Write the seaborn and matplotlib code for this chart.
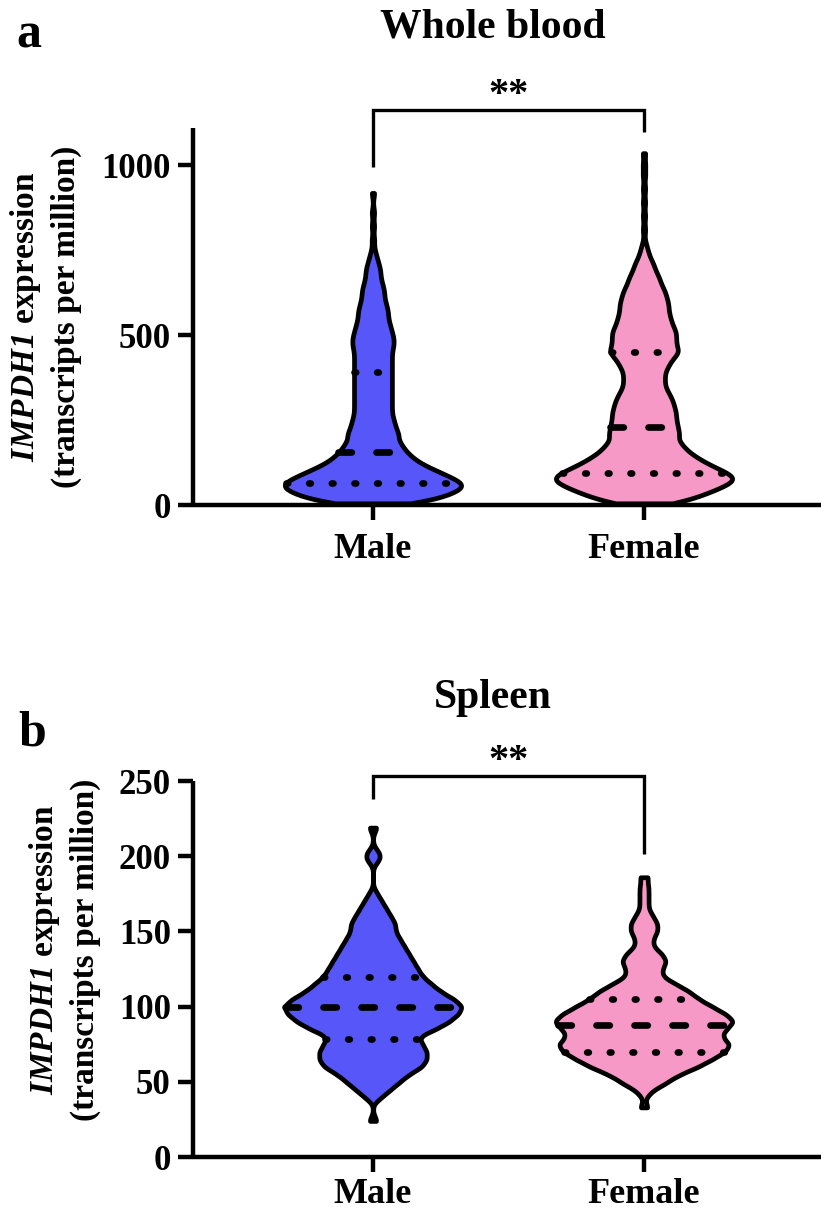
import numpy as np
import pandas as pd
import matplotlib
matplotlib.use("Agg")
import matplotlib.pyplot as plt
import seaborn as sns

# ---------------------------------------------------------------------------
# Data: IMPDH1 expression (TPM) observations, stored as value / count tables
# ---------------------------------------------------------------------------
groups = ["Male", "Female"]

blood_male_tpm = [5, 15, 25, 35, 45, 55, 65, 75, 85, 95, 105, 115, 125, 135, 145,
                  155, 165, 175, 185, 195, 210, 230, 250, 270, 290, 310, 330, 350,
                  370, 390, 410, 430, 450, 470, 490, 510, 530, 550, 570, 590, 610,
                  630, 650, 670, 690, 710, 730, 750, 780, 820, 860, 918]
blood_male_n = [13, 16, 19, 21, 23, 25, 24, 22, 20, 18, 16, 14, 12, 11, 10,
                9, 8, 8, 7, 7, 13, 12, 11, 10, 10, 10, 10, 10,
                10, 10, 10, 10, 10, 11, 11, 10, 9, 8, 8, 7, 6,
                6, 5, 4, 4, 3, 2, 1, 1, 1, 1, 1]

blood_female_tpm = [5, 15, 25, 35, 45, 55, 65, 75, 85, 95, 105, 115, 125, 135, 145,
                    155, 165, 175, 185, 195, 210, 230, 250, 270, 290, 310, 330, 350,
                    370, 390, 410, 430, 450, 470, 490, 510, 530, 550, 570, 590, 610,
                    630, 650, 670, 690, 710, 730, 750, 770, 810, 850, 890, 930,
                    970, 1000, 1035]
blood_female_n = [10, 12, 14, 17, 19, 21, 23, 25, 24, 22, 20, 18, 16, 15, 13,
                  12, 11, 10, 10, 9, 18, 18, 17, 17, 16, 15, 13, 11,
                  11, 11, 13, 15, 19, 17, 17, 17, 15, 14, 13, 13, 12,
                  11, 9, 8, 6, 5, 3, 2, 1, 1, 1, 1, 1,
                  1, 1, 1]

spleen_male_tpm = [24, 40, 45, 50, 55, 60, 65, 70, 75, 80, 85, 90, 95, 100, 105,
                   110, 115, 120, 125, 130, 135, 140, 145, 150, 155, 160, 165, 170,
                   175, 197, 200, 203, 219]
spleen_male_n = [1, 2, 4, 6, 8, 11, 12, 12, 11, 10, 14, 17, 19, 20, 18,
                 15, 13, 11, 10, 9, 8, 7, 6, 5, 5, 4, 3, 2,
                 1, 1, 1, 1, 1]

spleen_female_tpm = [33, 42, 46, 50, 55, 60, 65, 70, 75, 80, 85, 90, 95, 100, 105,
                     110, 115, 120, 125, 130, 135, 140, 145, 150, 155, 160, 165, 170,
                     175, 180, 186]
spleen_female_n = [1, 1, 2, 5, 8, 12, 15, 18, 19, 17, 18, 20, 18, 15, 12,
                   10, 7, 4, 4, 5, 4, 2, 2, 3, 3, 2, 1, 1,
                   1, 1, 1]

palette = {"Male": "#5757F9", "Female": "#F799C7"}


def expand(male_vals, male_n, female_vals, female_n):
    """Turn value/count tables into a long-form observation frame."""
    m = np.repeat(male_vals, male_n)
    f = np.repeat(female_vals, female_n)
    return pd.DataFrame({
        "sex": ["Male"] * len(m) + ["Female"] * len(f),
        "tpm": np.concatenate([m, f]).astype(float),
    })


blood = expand(blood_male_tpm, blood_male_n, blood_female_tpm, blood_female_n)
spleen = expand(spleen_male_tpm, spleen_male_n, spleen_female_tpm, spleen_female_n)

# ---------------------------------------------------------------------------
# Style
# ---------------------------------------------------------------------------
sns.set_style("ticks")
plt.rcParams["font.family"] = ["Liberation Serif", "DejaVu Serif"]
plt.rcParams["font.weight"] = "bold"
plt.rcParams["text.color"] = "black"
plt.rcParams["axes.edgecolor"] = "black"
plt.rcParams["axes.labelcolor"] = "black"
plt.rcParams["xtick.color"] = "black"
plt.rcParams["ytick.color"] = "black"
plt.rcParams["mathtext.fontset"] = "custom"
plt.rcParams["mathtext.rm"] = "Liberation Serif:bold"
plt.rcParams["mathtext.it"] = "Liberation Serif:italic:bold"
plt.rcParams["mathtext.bf"] = "Liberation Serif:bold"
plt.rcParams["mathtext.bfit"] = "Liberation Serif:italic:bold"

W, H = 821, 1214
fig = plt.figure(figsize=(W / 100, H / 100), dpi=100)


def fx(px):
    return px / W


def fy(py):
    return 1 - py / H


def make_axes(top_px, bottom_px, left_px=193, right_px=821):
    return fig.add_axes([fx(left_px), fy(bottom_px),
                         fx(right_px) - fx(left_px), (bottom_px - top_px) / H])


def draw_panel(ax, df, bw, ylim, yticks, xpad):
    sns.violinplot(
        data=df, x="sex", y="tpm", hue="sex", order=groups, hue_order=groups,
        palette=palette, saturation=1, legend=False, ax=ax,
        cut=0, density_norm="width", width=0.65, gridsize=400,
        bw_method=lambda k: bw / np.std(k.dataset, ddof=1),
        inner="quart", linewidth=3.4, linecolor="black",
    )
    for coll in ax.collections:
        coll.set_joinstyle("round")
        coll.set_capstyle("round")
        coll.set_edgecolor("black")
    # quartiles dotted, median dashed
    for i, line in enumerate(ax.lines):
        line.set_color("black")
        line.set_linewidth(4.8)
        line.set_dash_capstyle("round")
        if i % 3 == 1:
            line.set_linestyle((0, (2.0, 3.7)))
        else:
            line.set_linestyle((0, (0.25, 3.15)))

    ax.set_xlim(-0.664, 1.653)
    ax.set_ylim(*ylim)
    ax.set_yticks(yticks)
    ax.set_xlabel("")
    ax.set_ylabel("")
    sns.despine(ax=ax)
    for side in ("left", "bottom"):
        ax.spines[side].set_linewidth(3.2)
        ax.spines[side].set_color("black")
        ax.spines[side].set_capstyle("butt")
    ax.tick_params(axis="both", direction="out", length=11, width=3.2, color="black",
                   labelcolor="black")
    ax.tick_params(axis="y", labelsize=25, pad=5)
    ax.tick_params(axis="x", labelsize=26, pad=xpad)
    for lab in ax.get_xticklabels() + ax.get_yticklabels():
        lab.set_fontweight("bold")


def bracket(ax, left_end, top, right_end, star_y):
    ax.plot([0, 0, 1, 1], [left_end, top, top, right_end], color="black",
            lw=2.4, clip_on=False, solid_joinstyle="miter", solid_capstyle="butt")
    ax.text(0.5, star_y, "**", ha="center", va="baseline", fontsize=29,
            fontweight="bold", color="black", clip_on=False)


ylabel = "$\\mathbfit{IMPDH1}$ expression\n(transcripts per million)"

# Panel a: whole blood
ax_a = make_axes(128, 505)
draw_panel(ax_a, blood, 14, (0, 1109), [0, 500, 1000], xpad=9)
bracket(ax_a, 994, 1162, 1097, 1177)
fig.text(fx(493), fy(38), "Whole blood", ha="center", va="baseline",
         fontsize=30, fontweight="bold")
fig.text(fx(16), fy(48), "a", ha="left", va="baseline", fontsize=36, fontweight="bold")
fig.text(fx(45), fy(317), ylabel, rotation=90, ha="center", va="center",
         multialignment="center", fontsize=24, fontweight="bold", linespacing=1.3)

# Panel b: spleen
ax_b = make_axes(781, 1157)
draw_panel(ax_b, spleen, 3.0, (0, 250), [0, 50, 100, 150, 200, 250], xpad=4)
bracket(ax_b, 238, 253.3, 201.3, 256.6)
fig.text(fx(493), fy(708), "Spleen", ha="center", va="baseline",
         fontsize=30, fontweight="bold")
fig.text(fx(18), fy(746), "b", ha="left", va="baseline", fontsize=36, fontweight="bold")
fig.text(fx(64), fy(950), ylabel, rotation=90, ha="center", va="center",
         multialignment="center", fontsize=24, fontweight="bold", linespacing=1.3)

fig.savefig("out.png", dpi=100)
